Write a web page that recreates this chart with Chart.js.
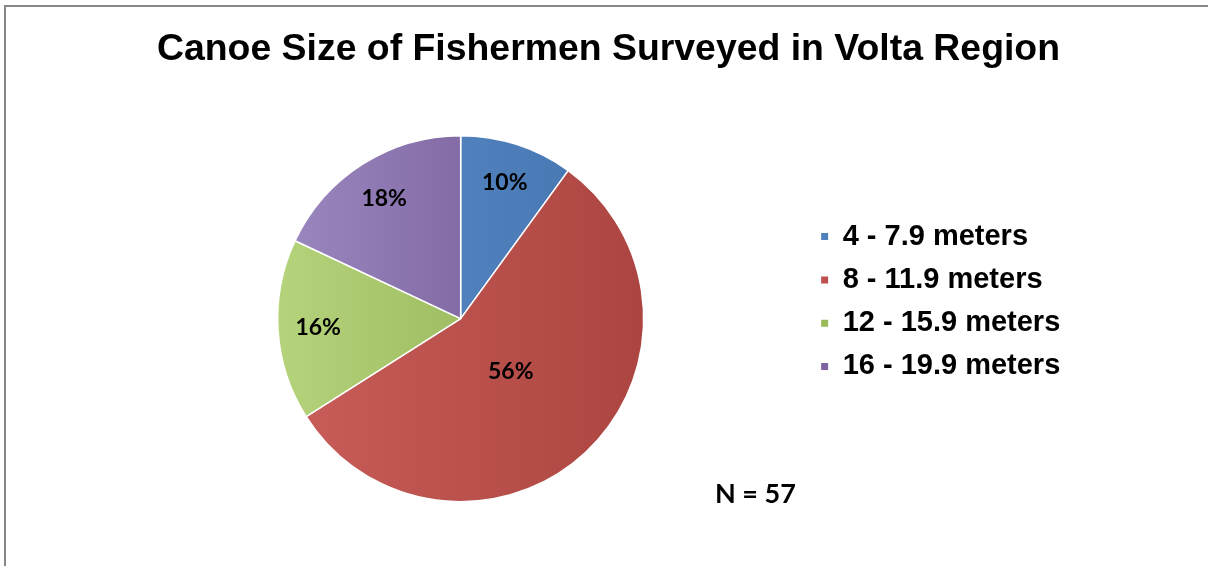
<!DOCTYPE html>
<html>
<head>
<meta charset="utf-8">
<script src="https://cdn.jsdelivr.net/npm/chart.js@4.4.1/dist/chart.umd.min.js"></script>
<style>
  html, body { margin: 0; padding: 0; background: #fff; overflow: hidden; }
  #wrap { position: relative; width: 1208px; height: 566px; }
  #frame {
    position: absolute; left: 4px; top: 5px; width: 1400px; height: 800px;
    border-left: 2px solid #878787; border-top: 2px solid #878787;
  }
  #chart { position: absolute; left: 0; top: 0; }
</style>
</head>
<body>
<div id="wrap">
  <div id="frame"></div>
  <canvas id="chart" width="1208" height="566"></canvas>
</div>
<script>
const chartTitle = 'Canoe Size of Fishermen Surveyed in Volta Region';
const sizeClasses = ['4 - 7.9 meters', '8 - 11.9 meters', '12 - 15.9 meters', '16 - 19.9 meters'];
const sharePercent = [10, 56, 16, 18];
const sampleNote = 'N = 57';

// office-style palette, light → dark for the slice gradient
const legendColors = ['#4F81BD', '#C0504D', '#9BBB59', '#8064A2'];
const lightColors = ['#5C8ECB', '#C95D59', '#B5D37B', '#9C89C0'];
const darkColors = ['#4474AE', '#AC4541', '#8AA84A', '#6B4F8D'];

const PIE_RADIUS = 183;

const sliceFill = (ctx) => {
  const chart = ctx.chart;
  const area = chart.chartArea;
  const i = ctx.dataIndex;
  if (!area) return legendColors[i];
  const cx = (area.left + area.right) / 2;
  const g = chart.ctx.createLinearGradient(cx - PIE_RADIUS, 0, cx + PIE_RADIUS, 0);
  g.addColorStop(0, lightColors[i]);
  g.addColorStop(1, darkColors[i]);
  return g;
};

// percentage labels inside the slices plus the N note
const sliceLabels = {
  id: 'sliceLabels',
  afterDatasetsDraw(chart) {
    const { ctx } = chart;
    const meta = chart.getDatasetMeta(0);
    const total = sharePercent.reduce((a, b) => a + b, 0);
    ctx.save();
    ctx.fillStyle = '#000';
    ctx.font = 'bold 23px Lato, "Noto Sans", sans-serif';
    ctx.textAlign = 'center';
    ctx.textBaseline = 'middle';
    meta.data.forEach((arc, i) => {
      const p = arc.getProps(['x', 'y', 'startAngle', 'endAngle', 'outerRadius'], true);
      const mid = (p.startAngle + p.endAngle) / 2;
      const share = sharePercent[i] / total;
      const r = p.outerRadius * (share > 0.5 ? 0.4 : 0.78);
      ctx.fillText(Math.round(share * 100) + '%', p.x + Math.cos(mid) * r, p.y + Math.sin(mid) * r);
    });
    ctx.font = 'bold 27px Lato, "Noto Sans", sans-serif';
    ctx.textAlign = 'left';
    ctx.textBaseline = 'alphabetic';
    ctx.fillText(sampleNote, 715, 503);
    ctx.restore();
  }
};

new Chart(document.getElementById('chart'), {
  type: 'pie',
  data: {
    labels: sizeClasses,
    datasets: [{
      data: sharePercent,
      backgroundColor: sliceFill,
      borderColor: '#ffffff',
      borderWidth: 1.5,
      radius: PIE_RADIUS,
      clip: false,
    }],
  },
  options: {
    responsive: false,
    devicePixelRatio: 1,
    animation: false,
    layout: { padding: { left: 114.5, right: 105.5, top: 0, bottom: 136.5 } },
    plugins: {
      tooltip: { enabled: false },
      title: {
        display: true,
        text: chartTitle,
        color: '#000',
        font: { family: '"Liberation Sans", Arial, sans-serif', size: 37.4, weight: 'bold' },
        padding: { top: 27.6, bottom: 135.3 },
      },
      legend: {
        position: 'right',
        align: 'start',
        fullSize: false,
        labels: {
          color: '#000',
          font: { family: '"Liberation Sans", Arial, sans-serif', size: 29, weight: 'bold' },
          boxWidth: 7,
          boxHeight: 7,
          padding: 14.3,
          generateLabels: (chart) => sizeClasses.map((text, i) => ({
            text: text + '    ',
            fillStyle: legendColors[i],
            strokeStyle: 'rgba(0,0,0,0)',
            lineWidth: 0,
            hidden: false,
            index: i,
          })),
        },
      },
    },
  },
  plugins: [sliceLabels],
});
</script>
</body>
</html>
